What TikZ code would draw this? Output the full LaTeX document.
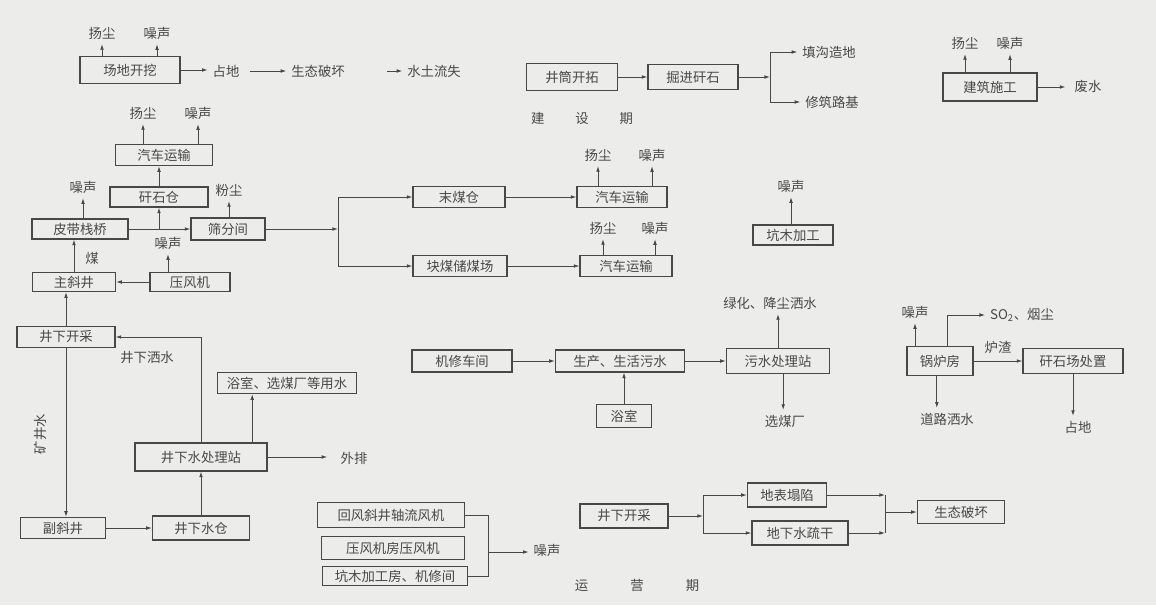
\documentclass[tikz,border=0pt]{standalone}
\usepackage{fontspec}
\setmainfont{Noto Sans CJK SC}
\usepackage{xcolor}
\definecolor{inkgray}{RGB}{72,72,72}
\definecolor{papergray}{RGB}{236,236,235}
\usetikzlibrary{arrows.meta,calc}

\begin{document}
\begin{tikzpicture}[x=0.025cm, y=-0.025cm,
  every node/.style={font=\fontsize{9.5}{11}\selectfont, text=inkgray},
  box/.style={draw=inkgray, line width=0.8pt, minimum height=0.55cm, inner sep=2pt},
  arr/.style={draw=inkgray, line width=0.6pt, -{Latex[length=4pt,width=2.6pt]}},
  ln/.style={draw=inkgray, line width=0.6pt}]
  \fill[papergray] (0,0) rectangle (1156,605);
  \useasboundingbox (0,0) rectangle (1156,605);

  % construction period
  \node[box, minimum width=2.5cm, minimum height=0.68cm] (dig) at (130,70) {场地开挖};
  \node (digdust) at (102,33) {扬尘};
  \node (dignoise) at (157,33) {噪声};
  \node (occupy) at (226,71) {占地};
  \node (ecoloss) at (318,71) {生态破坏};
  \node (erosion) at (434,71) {水土流失};
  \draw[arr] (dig.north -| digdust) -- (digdust.south);
  \draw[arr] (dig.north -| dignoise) -- (dignoise.south);
  \draw[arr] (dig.east) -- (dig.east -| occupy.west);
  \draw[arr, shorten <=4pt] (occupy.east) -- (ecoloss.west);
  \draw[arr, shorten <=0.93cm] (ecoloss.east) -- (erosion.west);

  \node[box, minimum width=2.28cm, minimum height=0.68cm] (shaft) at (572,77) {井筒开拓};
  \node[box, minimum width=2.25cm, minimum height=0.63cm] (gangue) at (693,77) {掘进矸石};
  \coordinate (gsplit) at (770,77);
  \node (fill) at (829,52) {填沟造地};
  \node (road) at (832,102) {修筑路基};
  \draw[arr] (shaft) -- (gangue);
  \draw[arr] (gangue.east) -- (gsplit);
  \draw[arr] (gsplit) |- (fill.west);
  \draw[arr] (gsplit) |- (road.west);
  \node (stagea) at (582,118) {建\hspace{22pt}设\hspace{22pt}期};

  \node[box, minimum width=2.35cm, minimum height=0.7cm] (build) at (990,87) {建筑施工};
  \node (builddust) at (965,43) {扬尘};
  \node (buildnoise) at (1010,43) {噪声};
  \node (waste) at (1088,86) {废水};
  \draw[arr] (build.north -| builddust) -- (builddust.south);
  \draw[arr] (build.north -| buildnoise) -- (buildnoise.south);
  \draw[arr, shorten >=3pt] (build.east) -- (build.east -| waste.west);

  % operation period: coal flow
  \node[box, minimum width=2.43cm, minimum height=0.53cm] (truckgan) at (164,155) {汽车运输};
  \node (gandust) at (143,113) {扬尘};
  \node (gannoise) at (198,113) {噪声};
  \draw[arr] (truckgan.north -| gandust) -- (gandust.south);
  \draw[arr] (truckgan.north -| gannoise) -- (gannoise.south);
  \node[box, minimum width=2.45cm, minimum height=0.5cm] (bin) at (159,197) {矸石仓};
  \draw[arr] (bin.north) -- (bin.north |- truckgan.south);
  \node[box, minimum width=2.4cm, minimum height=0.5cm] (belt) at (80,229) {皮带栈桥};
  \node[box, minimum width=1.85cm, minimum height=0.55cm] (screen) at (228,229) {筛分间};
  \node (beltnoise) at (83,187) {噪声};
  \node (screendust) at (229,190) {粉尘};
  \draw[arr] (belt.north -| beltnoise) -- (beltnoise.south);
  \draw[arr] (screen.north -| screendust) -- (screendust.south);
  \draw[arr] (belt.east) -- (screen.west);
  \draw[arr] (belt.east -| bin) -- (bin.south);
  \node[box, minimum width=2.08cm, minimum height=0.48cm] (incline) at (74,282) {主斜井};
  \node[box, minimum width=2.0cm, minimum height=0.48cm] (comp) at (190,282) {压风机};
  \node (compnoise) at (168,243) {噪声};
  \node (coal) at (92,258) {煤};
  \draw[arr] (comp.west) -- (incline.east);
  \draw[arr] (comp.north -| compnoise) -- (compnoise.south);
  \draw[arr] (incline.north) -- (incline.north |- belt.south);

  \coordinate (ssplit) at (338,229);
  \node[box, minimum width=2.3cm, minimum height=0.53cm] (fines) at (459,197) {末煤仓};
  \node[box, minimum width=2.35cm, minimum height=0.53cm] (lump) at (460,266) {块煤储煤场};
  \draw[arr] (screen.east) -- (ssplit);
  \draw[arr] (ssplit) |- (fines.west);
  \draw[arr] (ssplit) |- (lump.west);
  \node[box, minimum width=2.25cm, minimum height=0.53cm] (truckfine) at (622,197) {汽车运输};
  \node[box, minimum width=2.3cm, minimum height=0.53cm] (trucklump) at (626,266) {汽车运输};
  \draw[arr] (fines) -- (truckfine);
  \draw[arr] (lump) -- (trucklump);
  \node (finedust) at (598,155) {扬尘};
  \node (finenoise) at (652,155) {噪声};
  \node (lumpdust) at (603,228) {扬尘};
  \node (lumpnoise) at (655,228) {噪声};
  \draw[arr] (truckfine.north -| finedust) -- (finedust.south);
  \draw[arr] (truckfine.north -| finenoise) -- (finenoise.south);
  \draw[arr] (trucklump.north -| lumpdust) -- (lumpdust.south);
  \draw[arr] (trucklump.north -| lumpnoise) -- (lumpnoise.south);

  \node[box, minimum width=2.0cm, minimum height=0.5cm] (timber) at (793,235) {坑木加工};
  \node (timbernoise) at (791,186) {噪声};
  \draw[arr] (timber.north -| timbernoise) -- (timbernoise.south);

  % operation period: mine water
  \node[box, minimum width=2.45cm, minimum height=0.53cm] (mine) at (66,337) {井下开采};
  \node[box, minimum width=2.13cm, minimum height=0.53cm] (aux) at (63,528) {副斜井};
  \node[box, minimum width=2.43cm, minimum height=0.6cm] (sump) at (201,528) {井下水仓};
  \node[box, minimum width=3.3cm, minimum height=0.7cm] (wtp) at (201,457) {井下水处理站};
  \node[box, minimum width=3.48cm, minimum height=0.53cm] (reuse) at (287,383) {浴室、选煤厂等用水};
  \node[rotate=90] (minewater) at (40,434) {矿井水};
  \node (spray) at (147,357) {井下洒水};
  \node (outlet) at (354,458) {外排};
  \draw[arr] (mine.north) -- (mine.north |- incline.south);
  \draw[arr] (mine.south) -- (mine.south |- aux.north);
  \draw[arr] (aux.east) -- (sump.west);
  \draw[arr] (sump.north) -- (wtp.south);
  \draw[arr] (wtp.north) |- (mine.east);
  \draw[arr] ([xshift=1.28cm]wtp.north) -- ([xshift=1.28cm]wtp.north |- reuse.south);
  \draw[arr, shorten >=6pt] (wtp.east) -- (wtp.east -| outlet.west);

  % operation period: noise sources
  \node[box, minimum width=3.68cm, minimum height=0.63cm] (fan) at (391,515) {回风斜井轴流风机};
  \node[box, minimum width=3.58cm, minimum height=0.58cm] (aircomp) at (393,548) {压风机房压风机};
  \node[box, minimum width=3.63cm, minimum height=0.46cm] (shop) at (395,576) {坑木加工房、机修间};
  \coordinate (fanjoin) at (488,552);
  \node (fannoise) at (547,550) {噪声};
  \draw[ln] (fan.east) -| (fanjoin);
  \draw[ln] (shop.east) -| (fanjoin);
  \draw[arr] (fanjoin) -- (fanjoin -| fannoise.west);
  \node (stageb) at (637,585) {运\hspace{30pt}营\hspace{30pt}期};

  % operation period: sewage
  \node[box, minimum width=2.5cm, minimum height=0.55cm] (repair) at (462,361) {机修车间};
  \node[box, minimum width=3.23cm, minimum height=0.55cm] (sewage) at (620,361) {生产、生活污水};
  \node[box, minimum width=2.58cm, minimum height=0.63cm] (stp) at (778,361) {污水处理站};
  \node[box, minimum width=1.38cm, minimum height=0.58cm] (bath) at (624,416) {浴室};
  \node (green) at (770,303) {绿化、降尘洒水};
  \node (prep) at (785,421) {选煤厂};
  \draw[arr] (repair) -- (sewage);
  \draw[arr] (sewage) -- (stp);
  \draw[arr] (bath.north) -- (bath.north |- sewage.south);
  \draw[arr] (stp.north) -- (stp.north |- green.south);
  \draw[arr] ([xshift=0.13cm]stp.south) -- ([xshift=0.13cm]stp.south |- prep.north);

  % operation period: boiler
  \node[box, minimum width=1.65cm, minimum height=0.72cm] (boiler) at (940,361) {锅炉房};
  \node[box, minimum width=2.5cm, minimum height=0.63cm] (yard) at (1073,361) {矸石场处置};
  \node (boilernoise) at (915,312) {噪声};
  \node (flue) at (1022,315) {SO\textsubscript{2}、烟尘};
  \node (slag) at (998,347) {炉渣};
  \node (roadspray) at (947,419) {道路洒水};
  \node (yardland) at (1078,427) {占地};
  \draw[arr] (boiler.north -| boilernoise) -- (boilernoise.south);
  \draw[arr] ([xshift=0.18cm]boiler.north) |- (flue.west);
  \draw[arr] (boiler) -- (yard);
  \draw[arr] ([xshift=-0.08cm]boiler.south) -- ([xshift=-0.08cm]boiler.south |- roadspray.north);
  \draw[arr] (yard.south) -- (yard.south |- yardland.north);

  % operation period: subsidence
  \node[box, minimum width=2.2cm, minimum height=0.6cm] (mineb) at (624,516) {井下开采};
  \node[box, minimum width=1.98cm, minimum height=0.6cm] (subs) at (787,495) {地表塌陷};
  \node[box, minimum width=2.4cm, minimum height=0.6cm] (drain) at (800,533) {地下水疏干};
  \node[box, minimum width=2.18cm, minimum height=0.58cm] (ecob) at (961,512) {生态破坏};
  \coordinate (msplit) at (703,516);
  \coordinate (mjoin) at (885,512);
  \draw[arr] (mineb.east) -- (msplit);
  \draw[arr] (msplit) |- (subs.west);
  \draw[arr] (msplit) |- (drain.west);
  \draw[arr] (subs.east) -- (subs.east -| mjoin);
  \draw[arr] (drain.east) -- (drain.east -| mjoin);
  \draw[ln] (mjoin |- subs.east) -- (mjoin |- drain.east);
  \draw[arr] (mjoin) -- (ecob.west);
\end{tikzpicture}
\end{document}
